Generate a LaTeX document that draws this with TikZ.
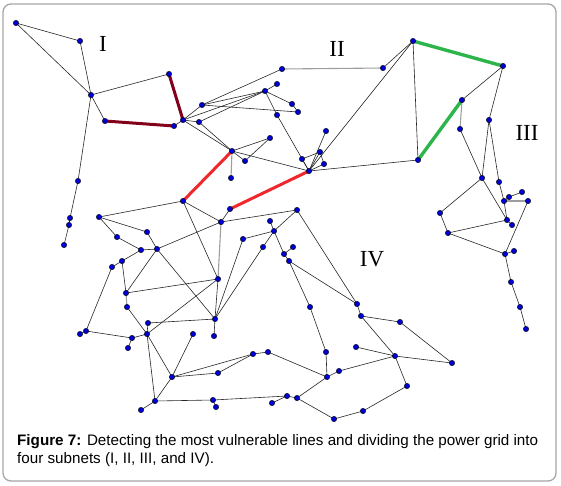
\documentclass[tikz,border=0pt]{standalone}
\usepackage{fontspec}
\setmainfont{Liberation Serif}
\newfontfamily\capfont{Liberation Sans}
\usetikzlibrary{backgrounds}
\definecolor{dotblue}{RGB}{0,0,210}
\definecolor{vred}{RGB}{240,40,45}
\definecolor{dred}{RGB}{130,0,25}
\definecolor{vgreen}{RGB}{45,180,75}
\begin{document}
\begin{tikzpicture}[x=1pt,y=-1pt,
  dot/.style={circle,fill=dotblue,draw=black,line width=0.4pt,inner sep=0pt,minimum size=5.4pt},
  ln/.style={draw=black!85,line width=0.6pt},
  gln/.style={draw=black!38,line width=1.1pt},
  redl/.style={draw=vred,line width=3pt},
  dredl/.style={draw=dred,line width=3pt},
  greenl/.style={draw=vgreen,line width=3.4pt},
  rom/.style={font=\fontsize{23}{23}\selectfont,inner sep=0pt},
  captxt/.style={font=\capfont\fontsize{15.2}{18}\selectfont,anchor=base west,inner sep=0pt}
]
\useasboundingbox (0,0) rectangle (561,485);
% nodes
\foreach \n/\x/\y in {A1/16/23, A2/80/41, A3/91/95, A4/105/121, A5/174/126, A6/169/74,
  C1/78/181, C2/70/218, C3/69/225, C4/64/245,
  B0/183/120, B1/282/69, B2/277/84, B3/265/91, B4/202/105, B5/199/122, B6/292/104, B7/298/112,
  B8/277/115, B9/270/138, B10/232/151, B11/245/161, B12/231/178, B13/326/131, B14/320/152,
  B15/302/159, B16/324/164, B17/309/171,
  D0/413/41, D1/418/160, D2/503/66, D3/462/100, D4/460/129, D5/489/120, D6/383/68,
  E1/482/178, E2/499/182, E3/440/213, E4/448/233, E5/507/220, E6/505/254, E7/509/197,
  E8/522/192, E9/504/201, E10/528/201, E11/512/225, E12/514/251, F1/511/282, F2/520/307, F3/526/329,
  G0/183/201, G1/230/209,
  H1/99/217, H2/117/237, H3/147/232, H4/141/250, H5/157/249, H6/122/261, H7/112/267, H8/126/293,
  H9/127/307, H10/148/323, H11/147/334, H12/132/338, H13/128/348, K1/86/331, K0/80/334,
  H14/172/377, H15/155/401, H16/141/410, H17/193/334, H18/218/373, H19/253/354, H20/268/352,
  H21/213/400, H22/216/407, H23/287/396, H24/272/403, H25/297/398, H26/310/307, H27/326/352,
  H28/327/377, H29/339/371, H30/334/419,
  I1/221/222, I2/218/279, I3/297/210, I4/270/221, I5/274/231, I6/243/239, I7/263/247,
  I8/293/247, I9/284/254, I10/289/261, J1/215/319, J2/214/336,
  L1/357/304, L2/361/316, L3/356/347, L4/363/411, L5/400/322, L6/395/356, L7/452/363, L8/407/386}
  {\node[dot] (\n) at (\x,\y) {};}
% labels
\node[rom] (lI) at (103,44) {I};
\node[rom] (lII) at (337,49) {II};
\node[rom] (lIII) at (527,133) {III};
\node[rom] (lIV) at (372,259) {IV};
\node[captxt] (cap1) at (17,445) {\textbf{Figure 7:} Detecting the most vulnerable lines and dividing the power grid into};
\node[captxt] (cap2) at (17,463) {four subnets (I, II, III, and IV).};
\begin{scope}[on background layer]
\draw[rounded corners=8pt,draw=black!35,line width=1.3pt] (3,4) rectangle (556,481);
\foreach \a/\b in {A1/A2, A1/A3, A2/A3, A3/A6, A3/A4, A3/C1, C1/C2, C2/C3, C3/C4, A5/B0,
  B1/B4, D6/D0, B4/B3, B0/B3, B5/B3, B4/B7, B3/B2, B3/B6, B6/B7, B3/B8, B8/B17, B0/B4, B0/B5,
  B0/B10, B5/B10, B10/B9, B10/B11, B11/B9, B10/B17, B13/B17, B14/B15, B14/B16, B14/B17,
  B15/B17, B16/B17, D0/B17, D1/B17,
  D0/D1, D2/D3, D2/D5, D4/E1, D5/E1, D5/E2, E1/E3, E1/E5, E2/E9, E9/E5, E9/E7, E7/E8,
  E10/E6, E5/E11, E3/E4, E4/E5, E4/E6, E6/E12, E6/F1, F1/F2, F2/F3,
  G0/H1, H1/H2, H1/H3, H2/H4, H3/H5, H4/H5, H4/H6, H6/H7, H6/H8, H5/H8, H5/I1, H5/J1,
  G0/I1, G0/I2, G1/I1, I1/I3, I3/I5, I4/I5, I6/I5, I5/I7, I5/I9, I9/I8, I9/I10, I10/H26,
  I10/L1, I3/L1, I2/J1, I6/J1, I7/J1, J1/J2, H7/K1, K0/K1, H8/I2, H9/H11, H10/H11, H10/J1,
  H11/I2, H11/H12, H12/H13, H12/K1, H11/H14, H11/H15, H14/H15, H14/H17, H14/H18, H14/H19,
  H18/H19, H19/H20, H20/H28, H15/H16, H15/H21, H21/H22, H21/H23, H23/H24, H23/H25, H25/H28,
  H25/H30, H30/L4, L4/L8, H26/H27, H27/H28, H28/H29, H29/L6, L1/L2, L2/L5, L2/L6, L3/L6,
  L5/L7, L6/L7, L6/L8}
  {\draw[ln] (\a.center) -- (\b.center);}
\foreach \a/\b in {B1/D6, B10/B12, I1/I2, H8/H9, E9/E10, D3/D4}
  {\draw[gln] (\a.center) -- (\b.center);}
\draw[dredl] (A4.center) -- (A5.center);
\draw[dredl] (A6.center) -- (B0.center);
\draw[redl] (B10.center) -- (G0.center);
\draw[redl] (B17.center) -- (G1.center);
\draw[greenl] (D0.center) -- (D2.center);
\draw[greenl] (D3.center) -- (D1.center);
\end{scope}
\end{tikzpicture}
\end{document}
